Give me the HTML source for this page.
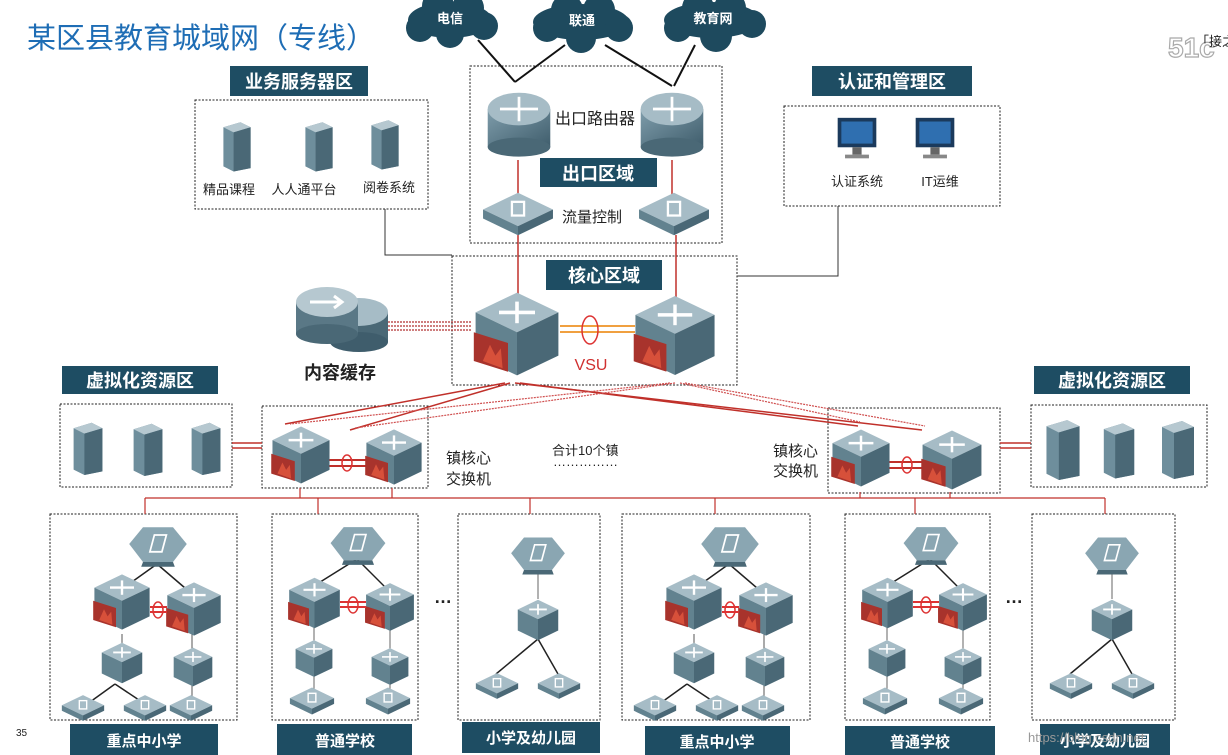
<!DOCTYPE html>
<html><head><meta charset="utf-8"><style>
html,body{margin:0;padding:0;background:#fff;}
svg{display:block;font-family:"Liberation Sans","Noto Sans CJK SC",sans-serif;}
</style></head><body>
<svg width="1228" height="755" viewBox="0 0 1228 755" xmlns="http://www.w3.org/2000/svg">
<defs>
<linearGradient id="gb" x1="0" y1="0" x2="1" y2="1"><stop offset="0" stop-color="#7f9dab"/><stop offset="1" stop-color="#3f5d6c"/></linearGradient>
<symbol id="sw" viewBox="0 0 100 100">
<polygon points="50,4 96,26 50,48 4,26" fill="#a6bcc6"/>
<polygon points="4,26 50,48 50,96 4,74" fill="#62828f"/>
<polygon points="50,48 96,26 96,74 50,96" fill="#4a6876"/>
<g stroke="#fff" stroke-width="4"><line x1="30" y1="26" x2="70" y2="26"/><line x1="50" y1="14" x2="50" y2="38"/></g>
</symbol>
<symbol id="fw" viewBox="0 0 100 100">
<use href="#sw" x="0" y="0" width="100" height="100"/>
<polygon points="2,48 40,60 40,92 2,80" fill="#a8332c"/>
<polygon points="12,80 20,62 26,74 32,66 34,88" fill="#e2583e" opacity=".8"/>
</symbol>
<symbol id="rt" viewBox="0 0 100 100">
<rect x="4" y="28" width="92" height="56" fill="url(#gb)"/>
<ellipse cx="50" cy="84" rx="46" ry="14" fill="#4a6876"/>
<ellipse cx="50" cy="28" rx="46" ry="24" fill="#a6bcc6"/>
<g stroke="#fff" stroke-width="4"><line x1="22" y1="28" x2="78" y2="28"/><line x1="50" y1="10" x2="50" y2="46"/></g>
</symbol>
<symbol id="flat" viewBox="0 0 100 60">
<polygon points="50,2 96,24 50,46 4,24" fill="#a6bcc6"/>
<polygon points="4,24 50,46 50,58 4,36" fill="#62828f"/>
<polygon points="50,46 96,24 96,36 50,58" fill="#4a6876"/>
<rect x="42" y="14" width="16" height="18" fill="none" stroke="#fff" stroke-width="3"/>
</symbol>
<symbol id="eg" viewBox="0 0 100 70">
<polygon points="25,2 75,2 98,30 75,60 25,60 2,30" fill="#8aa6b2"/>
<polygon points="25,60 75,60 78,68 22,68" fill="#4a6876"/>
<rect x="40" y="15" width="20" height="28" fill="none" stroke="#fff" stroke-width="3" transform="skewX(-15) translate(8,0)"/>
</symbol>
<symbol id="srv" viewBox="0 0 40 60">
<polygon points="4,8 24,2 36,8 36,56 16,60 4,54" fill="#6e8e9c"/>
<polygon points="4,8 24,2 36,8 16,14" fill="#b6c8d0"/>
<polygon points="16,14 36,8 36,56 16,60" fill="#4a6876"/>
</symbol>
<symbol id="mon" viewBox="0 0 50 50">
<rect x="4" y="2" width="42" height="32" fill="#1b3a5c"/>
<rect x="8" y="6" width="34" height="24" fill="#2f6fb0"/>
<rect x="20" y="34" width="10" height="8" fill="#666"/>
<rect x="12" y="42" width="26" height="4" fill="#888"/>
</symbol>
<g id="schA">
<line x1="107" y1="50" x2="72" y2="75" stroke="#222" stroke-width="1.5"/>
<line x1="107" y1="50" x2="142" y2="80" stroke="#222" stroke-width="1.5"/>
<line x1="72" y1="120" x2="72" y2="135" stroke="#555"/><line x1="142" y1="120" x2="142" y2="140" stroke="#555"/>
<line x1="65" y1="170" x2="40" y2="188" stroke="#222" stroke-width="1.5"/><line x1="65" y1="170" x2="92" y2="188" stroke="#222" stroke-width="1.5"/>
<line x1="142" y1="170" x2="142" y2="185" stroke="#555"/>
<use href="#eg" x="78" y="12" width="60" height="42"/>
<use href="#fw" x="42" y="52" width="60" height="72"/>
<use href="#fw" x="115" y="60" width="58" height="70"/>
<line x1="100" y1="93" x2="117" y2="93" stroke="#d33" stroke-width="2"/><line x1="100" y1="98" x2="117" y2="98" stroke="#d33" stroke-width="2"/>
<ellipse cx="108" cy="96" rx="5" ry="8" fill="none" stroke="#d33" stroke-width="1.5"/>
<use href="#sw" x="50" y="125" width="44" height="48"/>
<use href="#sw" x="122" y="130" width="42" height="46"/>
<use href="#flat" x="10" y="180" width="46" height="28"/>
<use href="#flat" x="72" y="180" width="46" height="28"/>
<use href="#flat" x="118" y="180" width="46" height="28"/>
</g>
<g id="schB">
<line x1="85" y1="45" x2="45" y2="70" stroke="#222" stroke-width="1.5"/><line x1="85" y1="45" x2="118" y2="78" stroke="#222" stroke-width="1.5"/>
<line x1="42" y1="110" x2="42" y2="185" stroke="#666"/><line x1="118" y1="115" x2="118" y2="185" stroke="#666"/>
<use href="#eg" x="57" y="12" width="58" height="40"/>
<use href="#fw" x="15" y="58" width="55" height="62"/>
<use href="#fw" x="92" y="63" width="52" height="60"/>
<line x1="68" y1="88" x2="94" y2="88" stroke="#d33" stroke-width="2"/><line x1="68" y1="93" x2="94" y2="93" stroke="#d33" stroke-width="2"/>
<ellipse cx="81" cy="91" rx="5" ry="8" fill="none" stroke="#d33" stroke-width="1.5"/>
<use href="#sw" x="22" y="122" width="40" height="45"/>
<use href="#sw" x="98" y="130" width="40" height="45"/>
<use href="#flat" x="16" y="172" width="48" height="30"/>
<use href="#flat" x="92" y="172" width="48" height="30"/>
</g>
<g id="schC">
<line x1="80" y1="60" x2="80" y2="85" stroke="#666"/>
<line x1="80" y1="125" x2="38" y2="160" stroke="#222" stroke-width="1.5"/><line x1="80" y1="125" x2="100" y2="160" stroke="#222" stroke-width="1.5"/>
<use href="#eg" x="52" y="22" width="56" height="40"/>
<use href="#sw" x="58" y="82" width="44" height="48"/>
<use href="#flat" x="16" y="158" width="46" height="28"/>
<use href="#flat" x="78" y="158" width="46" height="28"/>
</g>
</defs>

<text x="27" y="48" font-size="29" fill="#1e6db5">某区县教育城域网（专线）</text>
<text x="1168" y="57" font-size="28" font-weight="bold" fill="#fff" stroke="#aaa" stroke-width="1.2">51c</text>
<text x="1196" y="46" font-size="13" fill="#222">「接之</text>

<!-- clouds -->
<g fill="#1e4a5e">
<g transform="translate(450,20)"><ellipse cx="0" cy="0" rx="42" ry="18"/><circle cx="-30" cy="8" r="14"/><circle cx="-12" cy="-14" r="16"/><circle cx="18" cy="-12" r="16"/><circle cx="34" cy="6" r="14"/><circle cx="0" cy="14" r="14"/></g>
<g transform="translate(581,22)"><ellipse cx="0" cy="0" rx="48" ry="18"/><circle cx="-34" cy="6" r="14"/><circle cx="-14" cy="-12" r="16"/><circle cx="18" cy="-12" r="16"/><circle cx="38" cy="6" r="14"/><circle cx="0" cy="16" r="15"/></g>
<g transform="translate(712,20)"><ellipse cx="0" cy="0" rx="48" ry="18"/><circle cx="-34" cy="8" r="14"/><circle cx="-14" cy="-12" r="16"/><circle cx="18" cy="-12" r="16"/><circle cx="40" cy="4" r="14"/><circle cx="4" cy="16" r="16"/></g>
</g>
<g fill="#fff" font-size="13" font-weight="bold" text-anchor="middle"><text x="450" y="23">电信</text><text x="582" y="25">联通</text><text x="713" y="23">教育网</text></g>
<g stroke="#111" stroke-width="2"><line x1="478" y1="40" x2="515" y2="82"/><line x1="565" y1="45" x2="515" y2="82"/><line x1="605" y1="45" x2="672" y2="86"/><line x1="695" y1="45" x2="674" y2="86"/></g>

<!-- dashed boxes -->
<g fill="none" stroke="#222" stroke-dasharray="2,1.5" stroke-width="1">
<rect x="470" y="66" width="252" height="177"/>
<rect x="452" y="256" width="285" height="129"/>
<rect x="195" y="100" width="233" height="109"/>
<rect x="784" y="106" width="216" height="100"/>
<rect x="60" y="404" width="172" height="83"/>
<rect x="1031" y="405" width="176" height="82"/>
<rect x="262" y="406" width="166" height="82"/>
<rect x="828" y="408" width="172" height="85"/>
<rect x="50" y="514" width="187" height="206"/>
<rect x="272" y="514" width="146" height="206"/>
<rect x="458" y="514" width="142" height="206"/>
<rect x="622" y="514" width="188" height="206"/>
<rect x="845" y="514" width="145" height="206"/>
<rect x="1032" y="514" width="143" height="206"/>
</g>

<!-- connector lines -->
<g stroke="#333" stroke-width="1" fill="none"><polyline points="385,209 385,255 452,255"/><polyline points="838,206 838,276 737,276"/></g>
<g stroke="#c0302a" stroke-width="1.5"><line x1="518" y1="160" x2="518" y2="195"/><line x1="672" y1="160" x2="672" y2="195"/><line x1="518" y1="235" x2="518" y2="300"/><line x1="676" y1="235" x2="676" y2="300"/></g>

<!-- export devices -->
<use href="#rt" x="485" y="88" width="68" height="72"/>
<use href="#rt" x="638" y="88" width="68" height="72"/>
<text x="555" y="124" font-size="16" fill="#222">出口路由器</text>
<rect x="540" y="158" width="117" height="29" fill="#1e4d63"/>
<text x="598" y="180" font-size="18" font-weight="bold" fill="#fff" text-anchor="middle">出口区域</text>
<use href="#flat" x="480" y="190" width="76" height="48"/>
<use href="#flat" x="636" y="190" width="76" height="48"/>
<text x="562" y="222" font-size="15" fill="#222">流量控制</text>

<!-- core -->
<rect x="546" y="260" width="116" height="30" fill="#1e4d63"/>
<text x="604" y="282" font-size="18" font-weight="bold" fill="#fff" text-anchor="middle">核心区域</text>
<line x1="560" y1="326" x2="635" y2="326" stroke="#f0a040" stroke-width="2"/><line x1="560" y1="332" x2="635" y2="332" stroke="#f0a040" stroke-width="2"/>
<ellipse cx="590" cy="330" rx="8" ry="14" fill="none" stroke="#d33" stroke-width="1.5"/>
<text x="591" y="370" font-size="16" fill="#d03030" text-anchor="middle">VSU</text>
<use href="#fw" x="472" y="285" width="90" height="98"/>
<use href="#fw" x="632" y="288" width="86" height="95"/>

<!-- cache -->
<g stroke="#b03030" stroke-width="1.2" stroke-dasharray="2,1"><line x1="388" y1="322" x2="472" y2="322"/><line x1="388" y1="326" x2="472" y2="326"/><line x1="388" y1="330" x2="472" y2="330"/></g>
<g transform="translate(330,312)"><rect x="0" y="0" width="58" height="30" fill="#4a6876"/><ellipse cx="29" cy="30" rx="29" ry="10" fill="#3f5d6c"/><ellipse cx="29" cy="0" rx="29" ry="14" fill="#a6bcc6"/></g>
<g transform="translate(296,302)"><rect x="0" y="0" width="62" height="32" fill="#5a7886"/><ellipse cx="31" cy="32" rx="31" ry="10" fill="#4a6876"/><ellipse cx="31" cy="0" rx="31" ry="15" fill="#b6c8d0"/><path d="M14,0 L46,0 M38,-6 L46,0 L38,6" stroke="#fff" stroke-width="3" fill="none"/></g>
<text x="340" y="379" font-size="18" font-weight="bold" fill="#222" text-anchor="middle">内容缓存</text>

<!-- business servers -->
<rect x="230" y="66" width="138" height="30" fill="#1e4d63"/>
<text x="299" y="88" font-size="18" font-weight="bold" fill="#fff" text-anchor="middle">业务服务器区</text>
<use href="#srv" x="220" y="120" width="34" height="52"/>
<use href="#srv" x="302" y="120" width="34" height="52"/>
<use href="#srv" x="368" y="118" width="34" height="52"/>
<g font-size="13" fill="#222" text-anchor="middle"><text x="229" y="194">精品课程</text><text x="304" y="194">人人通平台</text><text x="389" y="192">阅卷系统</text></g>

<!-- auth -->
<rect x="812" y="66" width="160" height="30" fill="#1e4d63"/>
<text x="892" y="88" font-size="18" font-weight="bold" fill="#fff" text-anchor="middle">认证和管理区</text>
<use href="#mon" x="834" y="116" width="46" height="46"/>
<use href="#mon" x="912" y="116" width="46" height="46"/>
<g font-size="13" fill="#222" text-anchor="middle"><text x="857" y="186">认证系统</text><text x="940" y="186">IT运维</text></g>

<!-- virtualization -->
<rect x="62" y="366" width="156" height="28" fill="#1e4d63"/>
<text x="140" y="387" font-size="18" font-weight="bold" fill="#fff" text-anchor="middle">虚拟化资源区</text>
<rect x="1034" y="366" width="156" height="28" fill="#1e4d63"/>
<text x="1112" y="387" font-size="18" font-weight="bold" fill="#fff" text-anchor="middle">虚拟化资源区</text>
<use href="#srv" x="70" y="418" width="36" height="60"/><use href="#srv" x="130" y="420" width="36" height="58"/><use href="#srv" x="188" y="418" width="36" height="60"/>
<use href="#srv" x="1042" y="418" width="42" height="62"/><use href="#srv" x="1100" y="420" width="38" height="60"/><use href="#srv" x="1158" y="418" width="40" height="62"/>
<g stroke="#c0302a" stroke-width="1.5"><line x1="232" y1="443" x2="262" y2="443"/><line x1="232" y1="448" x2="262" y2="448"/><line x1="1000" y1="443" x2="1031" y2="443"/><line x1="1000" y1="448" x2="1031" y2="448"/></g>

<!-- core to town links -->
<g stroke="#c0302a" stroke-width="1.5" fill="none">
<line x1="505" y1="383" x2="285" y2="424"/><line x1="510" y1="383" x2="350" y2="430"/>
<line x1="520" y1="383" x2="858" y2="426"/><line x1="515" y1="383" x2="922" y2="430"/>
</g>
<g stroke="#d05050" stroke-width="1.2" stroke-dasharray="2,1" fill="none">
<line x1="670" y1="383" x2="290" y2="424"/><line x1="675" y1="383" x2="355" y2="428"/>
<line x1="680" y1="383" x2="860" y2="422"/><line x1="685" y1="383" x2="925" y2="426"/>
</g>

<!-- town cores -->
<line x1="325" y1="460" x2="370" y2="460" stroke="#c0302a" stroke-width="2"/><line x1="325" y1="466" x2="370" y2="466" stroke="#c0302a" stroke-width="2"/>
<ellipse cx="347" cy="463" rx="5" ry="8" fill="none" stroke="#d33" stroke-width="1.5"/>
<use href="#fw" x="270" y="422" width="62" height="66"/>
<use href="#fw" x="364" y="425" width="60" height="64"/>
<line x1="888" y1="462" x2="926" y2="462" stroke="#c0302a" stroke-width="2"/><line x1="888" y1="468" x2="926" y2="468" stroke="#c0302a" stroke-width="2"/>
<ellipse cx="907" cy="465" rx="5" ry="8" fill="none" stroke="#d33" stroke-width="1.5"/>
<use href="#fw" x="830" y="424" width="62" height="68"/>
<use href="#fw" x="920" y="426" width="64" height="68"/>
<g font-size="15" fill="#222"><text x="446" y="463">镇核心</text><text x="446" y="484">交换机</text><text x="773" y="456">镇核心</text><text x="773" y="476">交换机</text></g>
<text x="552" y="455" font-size="13" fill="#222">合计10个镇</text>
<text x="553" y="466" font-size="13" fill="#222">……………</text>

<!-- distribution -->
<g stroke="#c0302a" stroke-width="1.2" fill="none">
<line x1="145" y1="498" x2="1105" y2="498"/>
<line x1="145" y1="498" x2="145" y2="514"/><line x1="318" y1="498" x2="318" y2="514"/><line x1="530" y1="498" x2="530" y2="514"/>
<line x1="715" y1="498" x2="715" y2="514"/><line x1="915" y1="498" x2="915" y2="514"/><line x1="1105" y1="498" x2="1105" y2="514"/>
<line x1="300" y1="488" x2="300" y2="498"/><line x1="392" y1="488" x2="392" y2="498"/><line x1="860" y1="492" x2="860" y2="498"/><line x1="950" y1="492" x2="950" y2="498"/>
</g>

<use href="#schA" x="50" y="514"/>
<use href="#schB" x="272" y="514"/>
<use href="#schC" x="458" y="514"/>
<use href="#schA" x="622" y="514"/>
<use href="#schB" x="845" y="514"/>
<use href="#schC" x="1032" y="514"/>
<text x="434" y="603" font-size="18" font-weight="bold" fill="#222">…</text>
<text x="1005" y="603" font-size="18" font-weight="bold" fill="#222">…</text>

<!-- bottom labels -->
<g fill="#1e4d63"><rect x="70" y="724" width="148" height="31"/><rect x="277" y="724" width="135" height="31"/><rect x="462" y="722" width="138" height="31"/><rect x="645" y="726" width="145" height="29"/><rect x="845" y="726" width="150" height="29"/><rect x="1040" y="724" width="130" height="31"/></g>
<g fill="#fff" font-size="15" font-weight="bold" text-anchor="middle"><text x="144" y="746">重点中小学</text><text x="345" y="746">普通学校</text><text x="531" y="743">小学及幼儿园</text><text x="717" y="747">重点中小学</text><text x="920" y="747">普通学校</text><text x="1105" y="746">小学及幼儿园</text></g>
<text x="16" y="736" font-size="10" fill="#222">35</text>
<text x="1028" y="742" font-size="13" fill="#999">https://blog.csdn.net</text>
</svg>
</body></html>
